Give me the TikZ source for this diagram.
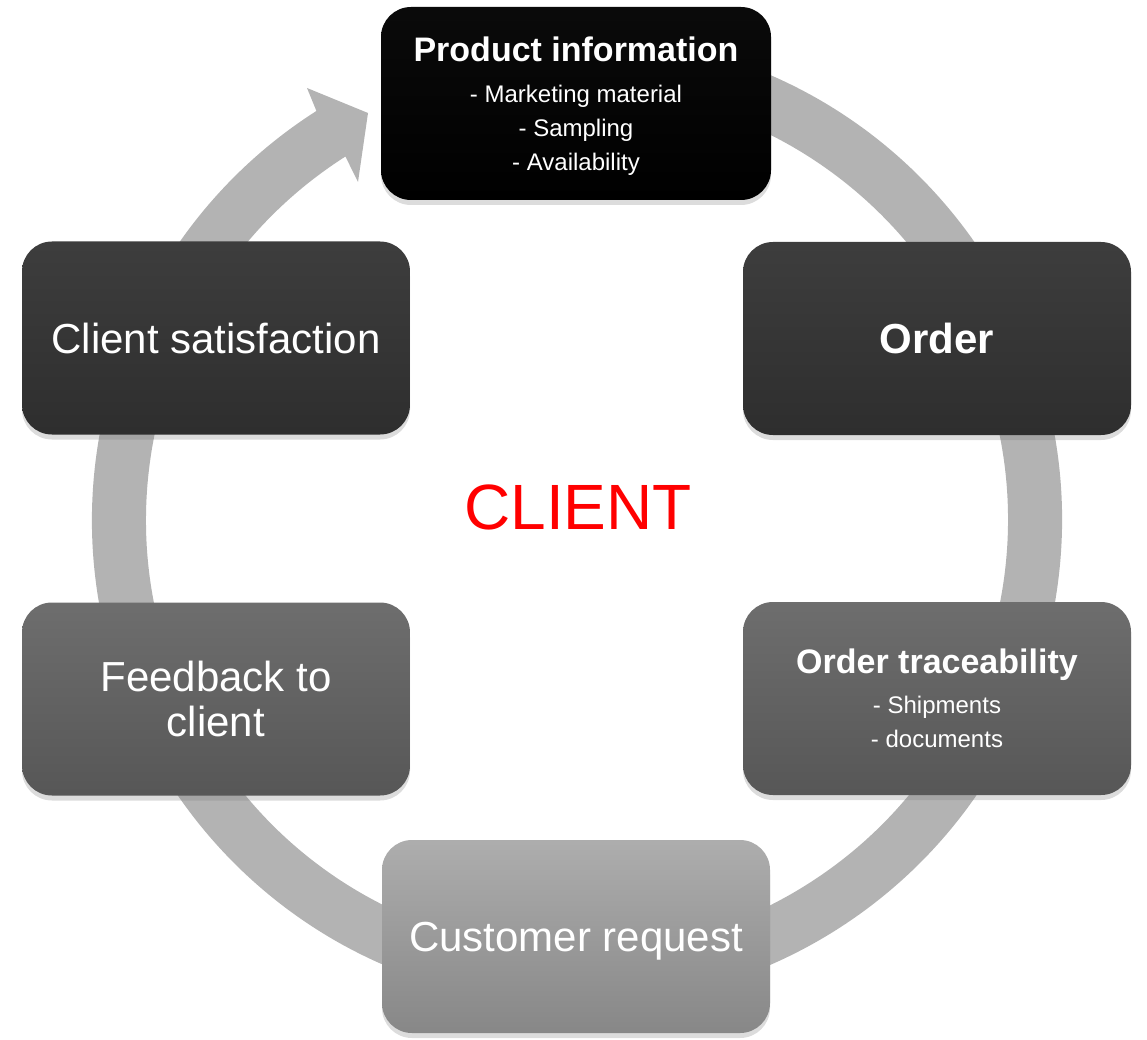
\documentclass[tikz,border=0pt]{standalone}
\usepackage{fontspec}
\setmainfont{Liberation Sans}
\usetikzlibrary{shadows}
\definecolor{ringgray}{HTML}{B3B3B3}
\definecolor{clientred}{HTML}{FF0000}
\begin{document}
\begin{tikzpicture}[x=1pt,y=-1pt,
  box/.style={rounded corners=30pt, minimum width=388pt, minimum height=193pt,
    inner sep=0pt, text=white, align=center, text depth=0pt,
    drop shadow={opacity=0.28, shadow xshift=0pt, shadow yshift=-5pt}},
  blackbox/.style={box, top color=black!96, bottom color=black},
  darkbox/.style={box, top color=black!76, bottom color=black!82},
  midbox/.style={box, top color=black!57, bottom color=black!66},
  lightbox/.style={box, top color=black!32, bottom color=black!47},
  bigtext/.style={font=\fontsize{42}{45}\selectfont},
  listtext/.style={font=\fontsize{24}{34}\selectfont}]
\useasboundingbox (0,0) rectangle (1147,1040);
% ring arrow
\begin{scope}[shift={(577,520)}]
  \fill[ringgray] (-80:485) arc[start angle=-80, end angle=237.5, radius=485]
    -- (-270,-432) -- (-209,-407) -- (-219,-338)
    -- (237.5:431) arc[start angle=237.5, end angle=-80, radius=431] -- cycle;
\end{scope}
% boxes
\node[blackbox, listtext, minimum width=390pt] (prod) at (576,103.5)
  {{\fontsize{34}{40}\selectfont\bfseries Product information}\\[7pt]
   - Marketing material\\ - Sampling\\ - Availability};
\node[darkbox, bigtext] (order) at (937,338.5) {\bfseries Order};
\node[midbox, listtext] (trace) at (937,698.5)
  {{\fontsize{34}{40}\selectfont\bfseries Order traceability}\\[6pt]
   - Shipments\\ - documents};
\node[lightbox, bigtext] (cust) at (576,936.5) {Customer request};
\node[midbox, bigtext] (feed) at (216,699) {Feedback to\\client};
\node[darkbox, bigtext] (sat) at (216,338) {Client satisfaction};
% centre label
\node[text=clientred, font=\fontsize{64}{70}\selectfont] (client) at (578,507) {CLIENT};
\end{tikzpicture}
\end{document}
